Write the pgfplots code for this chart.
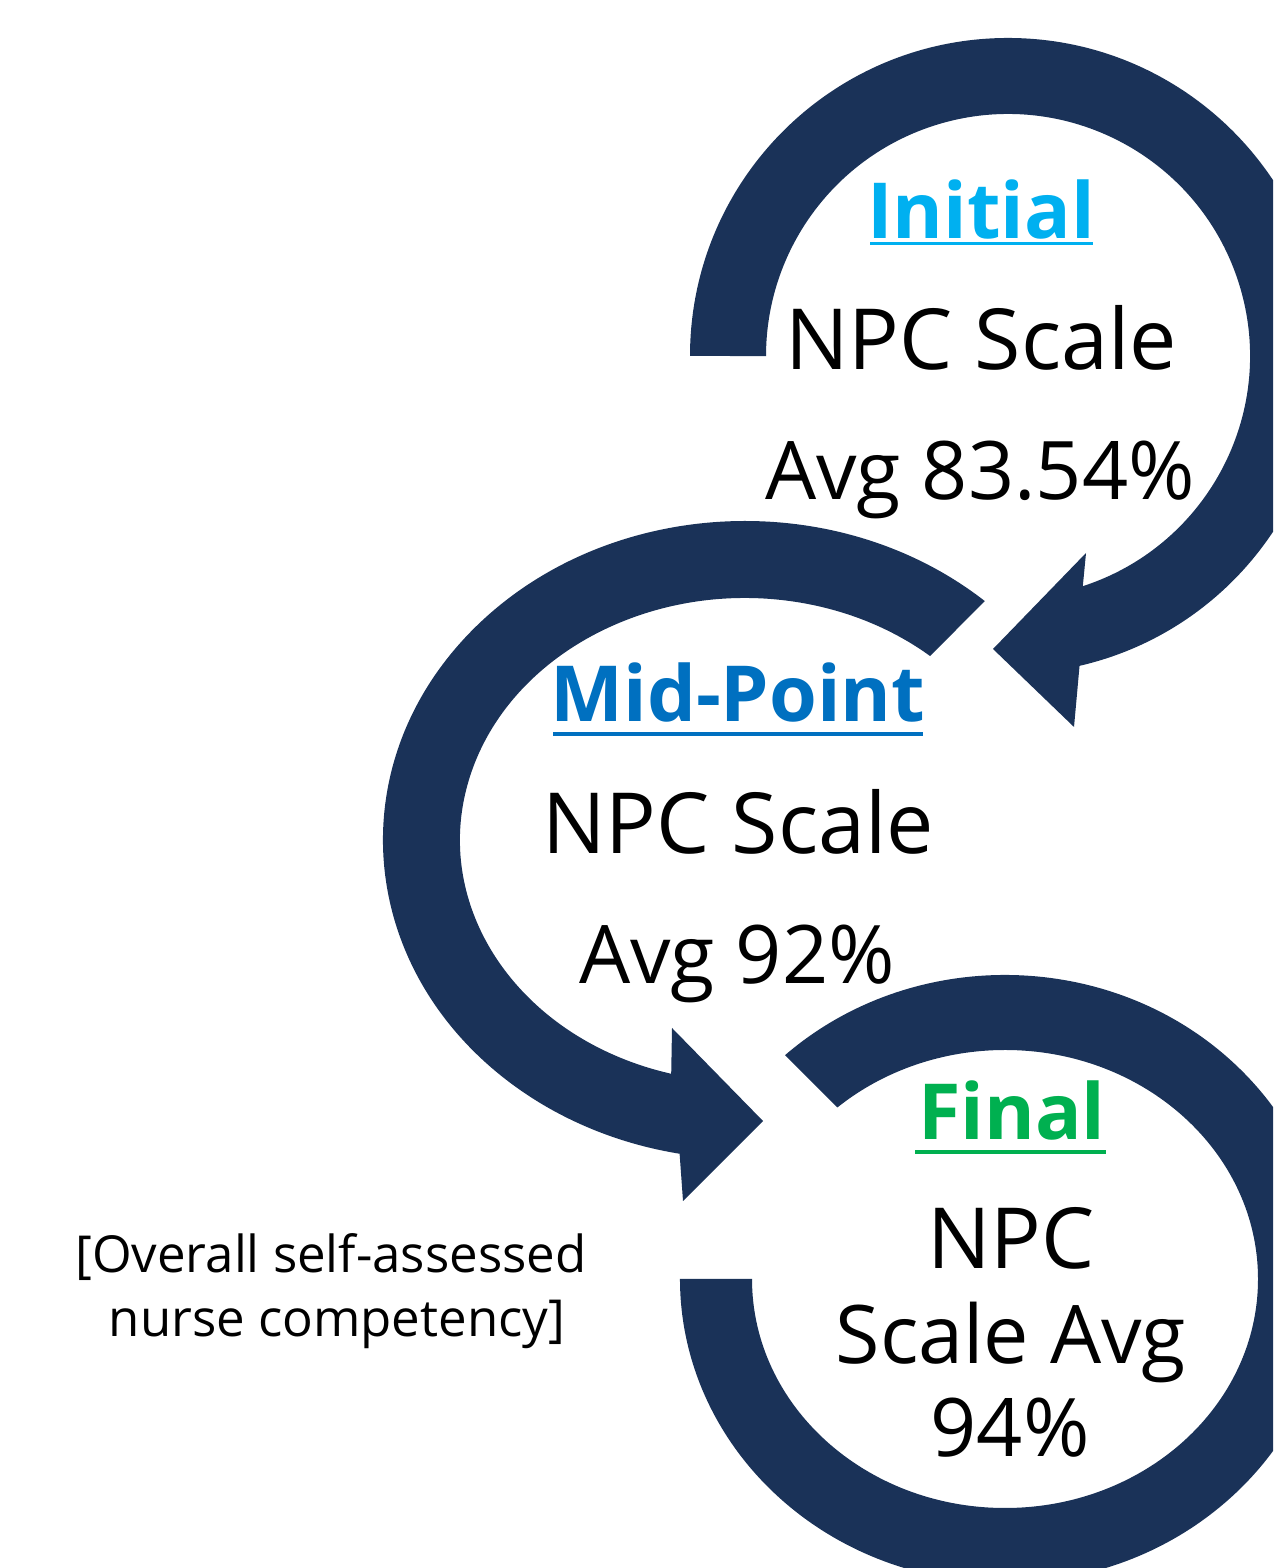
\documentclass[border=0pt]{standalone}
\usepackage{pgfplots}
\pgfplotsset{compat=1.18}
\usepackage{fontspec}
\setmainfont{Open Sans}
\definecolor{navy}{HTML}{1A3258}
\definecolor{cInit}{HTML}{00B0F0}
\definecolor{cMid}{HTML}{0070C0}
\definecolor{cFin}{HTML}{00B050}
\begin{document}
\begin{tikzpicture}
\begin{axis}[width=12.73cm,height=15.68cm,scale only axis,
  xmin=0,xmax=1273,ymin=0,ymax=1568,axis lines=none,clip=true]
\addplot[draw=none] coordinates {(0,0) (1273,1568)};
% ring 1 (Initial)
\fill[navy] (axis cs:690,1212) arc[start angle=180,end angle=-77,radius=3.18cm]
  -- (axis cs:1074,841) -- (axis cs:993,919) -- (axis cs:1086,1015) -- (axis cs:1082.8,981.8)
  arc[start angle=-72,end angle=180,radius=2.42cm] -- cycle;
% ring 2 (Mid-Point)
\fill[navy] (axis cs:984.8,966.9) arc[start angle=48.5,end angle=259.6,x radius=3.62cm,y radius=3.19cm]
  -- (axis cs:683,367) -- (axis cs:763,447) -- (axis cs:672,540) -- (axis cs:671.2,494.2)
  arc[start angle=255,end angle=49.5,x radius=2.85cm,y radius=2.42cm] -- cycle;
% ring 3 (Final)
\fill[navy] (axis cs:785,512.8) arc[start angle=132.6,end angle=-180,x radius=3.25cm,y radius=3.04cm]
  -- (axis cs:752,289) arc[start angle=-180,end angle=131.5,x radius=2.53cm,y radius=2.29cm] -- cycle;
% texts
\tikzset{hd/.style={anchor=base,inner sep=0,font=\fontsize{22}{26}\selectfont\bfseries},
         tx/.style={anchor=base,inner sep=0,font=\fontsize{23}{28}\selectfont},
         tb/.style={anchor=base,inner sep=0,font=\fontsize{24}{28}\selectfont},
         sm/.style={anchor=base,inner sep=0,font=\fontsize{14.5}{17}\selectfont}}
\node[hd,text=cInit] at (axis cs:981,1329) {Initial};
\draw[cInit,line width=1.1pt] (axis cs:870,1324.5) -- (axis cs:1093,1324.5);
\node[tb] at (axis cs:981,1198) {NPC Scale};
\node[tx] at (axis cs:980,1068) {Avg 83.54\%};
\node[hd,text=cMid] at (axis cs:738,846) {Mid-Point};
\draw[cMid,line width=1.4pt] (axis cs:553,834) -- (axis cs:923,834);
\node[tb] at (axis cs:738,714) {NPC Scale};
\node[tx] at (axis cs:737,584) {Avg 92\%};
\node[hd,text=cFin] at (axis cs:1012,428) {Final};
\draw[cFin,line width=1.4pt] (axis cs:915,416) -- (axis cs:1106,416);
\node[tb] at (axis cs:1011,299) {NPC};
\node[tx] at (axis cs:1011,204) {Scale Avg};
\node[tx] at (axis cs:1010,111) {94\%};
\node[sm] at (axis cs:331,295) {[Overall self-assessed};
\node[sm] at (axis cs:337,231) {nurse competency]};
\end{axis}
\pgfresetboundingbox
\path[use as bounding box] (0,0) rectangle (12.73cm,15.68cm);
\end{tikzpicture}
\end{document}
